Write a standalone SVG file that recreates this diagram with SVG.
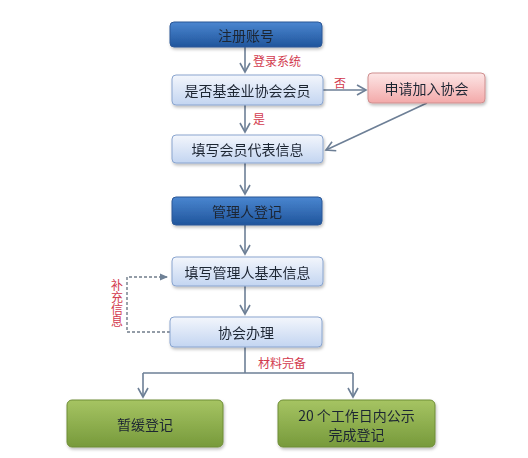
<svg xmlns="http://www.w3.org/2000/svg" width="528" height="458" viewBox="0 0 528 458">
<defs>
<linearGradient id="gDark" x1="0" y1="0" x2="0" y2="1"><stop offset="0" stop-color="#4a86d0"/><stop offset="1" stop-color="#20559c"/></linearGradient>
<linearGradient id="gLight" x1="0" y1="0" x2="0" y2="1"><stop offset="0" stop-color="#f3f6fc"/><stop offset="1" stop-color="#c3d5f1"/></linearGradient>
<linearGradient id="gPink" x1="0" y1="0" x2="0" y2="1"><stop offset="0" stop-color="#fde6e6"/><stop offset="1" stop-color="#f3a9a9"/></linearGradient>
<linearGradient id="gGreen" x1="0" y1="0" x2="0" y2="1"><stop offset="0" stop-color="#a6c463"/><stop offset="1" stop-color="#779a3b"/></linearGradient>
<filter id="sh" x="-10%" y="-20%" width="120%" height="150%"><feDropShadow dx="1" dy="2" stdDeviation="1.5" flood-color="#000" flood-opacity="0.25"/></filter>
<marker id="arr" viewBox="0 0 12 12" refX="10" refY="6" markerWidth="12" markerHeight="12" markerUnits="userSpaceOnUse" orient="auto"><path d="M1,1 L10,6 L1,11" fill="none" stroke="#6d7f96" stroke-width="1.6"/></marker>
<marker id="arrD" viewBox="0 0 10 10" refX="9" refY="5" markerWidth="9" markerHeight="9" markerUnits="userSpaceOnUse" orient="auto"><path d="M0,1 L9,5 L0,9 Z" fill="#6f8196"/></marker>
</defs>
<style>
.t{font-family:"Noto Sans CJK SC","Liberation Sans",sans-serif;font-size:14px;fill:#1d2533;text-anchor:middle;dominant-baseline:central}
.lb{font-family:"Noto Sans CJK SC",sans-serif;font-size:12px;fill:#d23a4e}
.c{fill:none;stroke:#6d7f96;stroke-width:1.6}
.dark{fill:url(#gDark);stroke:#2b5796;stroke-width:1}
.light{fill:url(#gLight);stroke:#8aa5cf;stroke-width:1}
.pink{fill:url(#gPink);stroke:#cf8f8f;stroke-width:1}
.green{fill:url(#gGreen);stroke:#6e8d36;stroke-width:1}
</style>
<rect width="528" height="458" fill="#ffffff"/>
<g id="connectors">
<path class="c" d="M245,47 V72" marker-end="url(#arr)"/>
<path class="c" d="M245,105 V132" marker-end="url(#arr)"/>
<path class="c" d="M323,90 H366" marker-end="url(#arr)"/>
<path class="c" d="M427,103 L326,150" marker-end="url(#arr)"/>
<path class="c" d="M245,163 V194" marker-end="url(#arr)"/>
<path class="c" d="M245,225 V254" marker-end="url(#arr)"/>
<path class="c" d="M245,286 V314" marker-end="url(#arr)"/>
<path d="M170,332 H127 V277 H168" fill="none" stroke="#707c8a" stroke-width="1.4" stroke-dasharray="3,2" marker-end="url(#arrD)"/>
<path class="c" d="M245,347 V373"/>
<path class="c" d="M143,373 H353"/>
<path class="c" d="M143,373 V397" marker-end="url(#arr)"/>
<path class="c" d="M353,373 V397" marker-end="url(#arr)"/>
<text class="lb" x="253" y="66">登录系统</text>
<text class="lb" x="334" y="88">否</text>
<text class="lb" x="253" y="124">是</text>
<text class="lb" x="258" y="368">材料完备</text>
<text class="lb" x="117" y="279" style="writing-mode:vertical-rl">补充信息</text>
</g>
<g id="n1" filter="url(#sh)"><rect class="dark" x="170" y="22" width="152" height="25" rx="4"/><text class="t" x="246" y="34.5">注册账号</text></g>
<g id="n2" filter="url(#sh)"><rect class="light" x="172" y="75" width="151" height="30" rx="4"/><text class="t" x="247.5" y="90">是否基金业协会会员</text></g>
<g id="n3" filter="url(#sh)"><rect class="pink" x="368" y="73" width="117" height="30" rx="4"/><text class="t" x="426.5" y="88">申请加入协会</text></g>
<g id="n4" filter="url(#sh)"><rect class="light" x="172" y="135" width="151" height="28" rx="4"/><text class="t" x="247.5" y="149">填写会员代表信息</text></g>
<g id="n5" filter="url(#sh)"><rect class="dark" x="172" y="197" width="150" height="28" rx="4"/><text class="t" x="247" y="211">管理人登记</text></g>
<g id="n6" filter="url(#sh)"><rect class="light" x="172" y="257" width="151" height="29" rx="4"/><text class="t" x="247.5" y="271.5">填写管理人基本信息</text></g>
<g id="n7" filter="url(#sh)"><rect class="light" x="170" y="317" width="152" height="30" rx="4"/><text class="t" x="246" y="332">协会办理</text></g>
<g id="n8" filter="url(#sh)"><rect class="green" x="67" y="400" width="156" height="47" rx="5"/><text class="t" x="145" y="423.5">暂缓登记</text></g>
<g id="n9" filter="url(#sh)"><rect class="green" x="278" y="400" width="157" height="47" rx="5"/><text class="t" x="356.5" y="415">20 个工作日内公示</text><text class="t" x="356.5" y="434">完成登记</text></g>
</svg>
